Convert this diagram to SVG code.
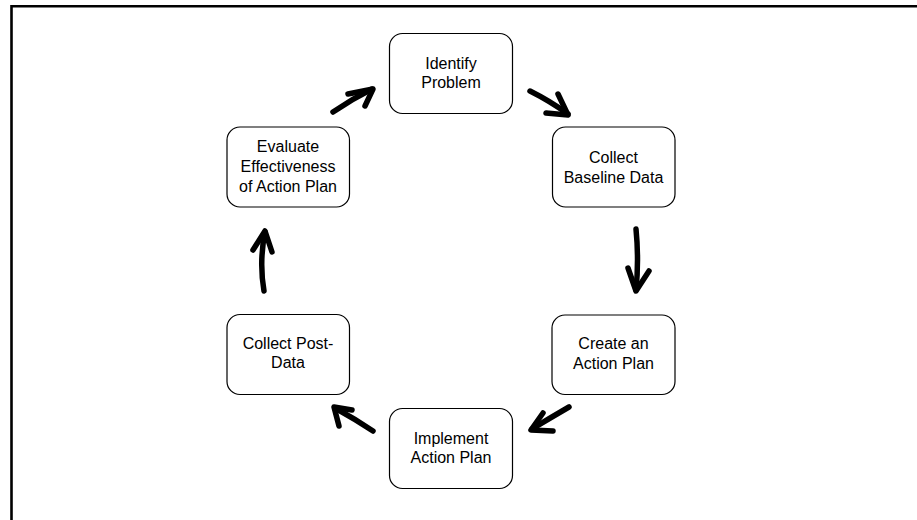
<svg xmlns="http://www.w3.org/2000/svg" width="917" height="520" viewBox="0 0 917 520">
  <style>
    .box { fill: #ffffff; stroke: #000000; stroke-width: 1.2; }
    .lbl { font-family: "Liberation Sans", Arial, sans-serif; font-size: 16px; fill: #000000; text-anchor: middle; }
    .arrow { fill: none; stroke: #000000; stroke-width: 5.5; stroke-linecap: round; stroke-linejoin: round; }
    .frame { fill: none; stroke: #000000; stroke-width: 2.6; }
  </style>
  <rect width="917" height="520" fill="#ffffff"/>

  <!-- slide frame: top and left edges only -->
  <path class="frame" d="M11.5 520 V6.2 H917"/>

  <g id="identify-problem">
    <rect class="box" x="389.5" y="33.5" width="123" height="80" rx="13"/>
    <text class="lbl" x="451" y="68.5">Identify</text>
    <text class="lbl" x="451" y="88">Problem</text>
  </g>

  <g id="collect-baseline-data">
    <rect class="box" x="552.5" y="127" width="122.5" height="80" rx="13"/>
    <text class="lbl" x="613.5" y="163">Collect</text>
    <text class="lbl" x="613.5" y="182.5">Baseline Data</text>
  </g>

  <g id="create-action-plan">
    <rect class="box" x="552" y="315" width="123" height="79.5" rx="13"/>
    <text class="lbl" x="613.5" y="349">Create an</text>
    <text class="lbl" x="613.5" y="368.5">Action Plan</text>
  </g>

  <g id="implement-action-plan">
    <rect class="box" x="389.5" y="408.5" width="123" height="80" rx="13"/>
    <text class="lbl" x="451" y="443.5">Implement</text>
    <text class="lbl" x="451" y="463">Action Plan</text>
  </g>

  <g id="collect-post-data">
    <rect class="box" x="227" y="314.5" width="122.5" height="80" rx="13"/>
    <text class="lbl" x="288" y="348.5">Collect Post-</text>
    <text class="lbl" x="288" y="368">Data</text>
  </g>

  <g id="evaluate-effectiveness">
    <rect class="box" x="227" y="127" width="122.5" height="80" rx="13"/>
    <text class="lbl" x="288" y="152">Evaluate</text>
    <text class="lbl" x="288" y="172">Effectiveness</text>
    <text class="lbl" x="288" y="192">of Action Plan</text>
  </g>

  <g id="connectors">
    <!-- Identify Problem -> Collect Baseline Data -->
    <path class="arrow" d="M530 91 Q550 101 568 114"/>
    <path class="arrow" d="M558 94 L568 115 L546 113"/>
    <!-- Collect Baseline Data -> Create an Action Plan -->
    <path class="arrow" d="M636 229 Q639 260 636 290"/>
    <path class="arrow" d="M628 268 L636 291 L649 271"/>
    <!-- Create an Action Plan -> Implement Action Plan -->
    <path class="arrow" d="M569 407 Q550 418 532 429"/>
    <path class="arrow" d="M543 413 L531 430 L553 431"/>
    <!-- Implement Action Plan -> Collect Post-Data -->
    <path class="arrow" d="M373 431 Q355 419 335 408"/>
    <path class="arrow" d="M352 410 L334 407 L339 426"/>
    <!-- Collect Post-Data -> Evaluate Effectiveness -->
    <path class="arrow" d="M264 291 Q259 262 265 232"/>
    <path class="arrow" d="M253 250 L265 231 L272 252"/>
    <!-- Evaluate Effectiveness -> Identify Problem -->
    <path class="arrow" d="M333 112 Q352 99 372 89"/>
    <path class="arrow" d="M348 94 L373 89 L365 106"/>
  </g>
</svg>
